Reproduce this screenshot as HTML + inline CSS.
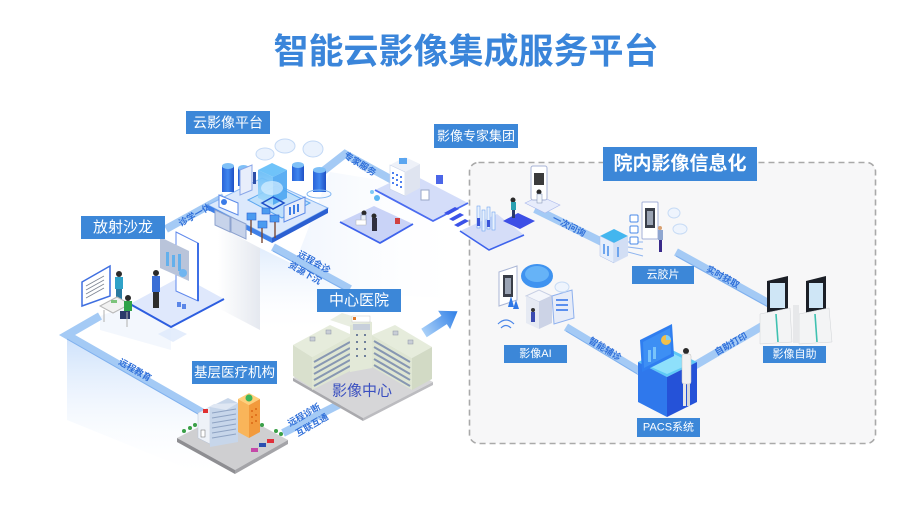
<!DOCTYPE html>
<html><head><meta charset="utf-8">
<style>
html,body{margin:0;padding:0;background:#fff;width:910px;height:522px;overflow:hidden;}
svg{display:block;}
text{font-family:"Liberation Sans","Noto Sans CJK SC",sans-serif;}
.lbl{fill:#fff;text-anchor:middle;dominant-baseline:central;}
.bt{fill:#2f6fd9;font-size:9px;font-weight:bold;text-anchor:middle;dominant-baseline:central;}
</style></head><body>
<svg width="910" height="522" viewBox="0 0 910 522" xmlns="http://www.w3.org/2000/svg">
<defs>
 <linearGradient id="fadeDown" x1="0" y1="0" x2="0" y2="1">
  <stop offset="0" stop-color="#cde1fb"/><stop offset="1" stop-color="#ffffff" stop-opacity="0"/>
 </linearGradient>
 <linearGradient id="fadeRight" x1="0" y1="0" x2="1" y2="0">
  <stop offset="0" stop-color="#d9e7fb"/><stop offset="1" stop-color="#ffffff" stop-opacity="0"/>
 </linearGradient>
 <linearGradient id="wallG" x1="0" y1="0" x2="1" y2="0">
  <stop offset="0" stop-color="#ffffff"/><stop offset="1" stop-color="#e2e6ee"/>
 </linearGradient>
 <linearGradient id="arrowG" x1="0" y1="0" x2="1" y2="0">
  <stop offset="0" stop-color="#a9d0f8"/><stop offset="1" stop-color="#2f7fe6"/>
 </linearGradient>
 <linearGradient id="cyl" x1="0" y1="0" x2="1" y2="0">
  <stop offset="0" stop-color="#2a63d8"/><stop offset="0.5" stop-color="#3f86ef"/><stop offset="1" stop-color="#1f4fc4"/>
 </linearGradient>
 <linearGradient id="glow" x1="0" y1="0" x2="0" y2="1">
  <stop offset="0" stop-color="#5fb8f7"/><stop offset="1" stop-color="#a7dcfb"/>
 </linearGradient>
</defs>

<!-- Title -->
<text x="466" y="52" font-size="35" font-weight="bold" fill="#3a85da" text-anchor="middle" dominant-baseline="central">智能云影像集成服务平台</text>

<!-- background soft regions -->
<polygon points="67,336 205,416 215,480 67,420" fill="url(#fadeDown)"/>
<polygon points="218,226 260,248 260,330 218,308" fill="url(#wallG)" opacity="0.9"/>
<polygon points="260,248 350,292 350,335 260,335" fill="url(#fadeDown)" opacity="0.6"/>
<polygon points="330,172 392,182 470,200 470,300 350,292 300,250" fill="url(#fadeRight)" opacity="0.35"/>
<polygon points="100,316 130,305 171,328 171,350 100,330" fill="#eef3fc" opacity="0.7"/>

<!-- Dashed container -->
<rect x="469.5" y="162.5" width="406" height="281" rx="9" fill="#f7f7f8" stroke="#a9a9a9" stroke-width="1.6" stroke-dasharray="6 4"/>

<!-- Bands -->
<g stroke="#a4caf5" stroke-width="8" fill="none" stroke-linecap="butt">
 <polyline points="100,316 67,335 205,414"/>
 <line x1="166" y1="229" x2="224" y2="197"/>
 <polyline points="322,172 345,154 394,181"/>
 <line x1="273" y1="247" x2="350" y2="289"/>
 <line x1="283" y1="433" x2="340" y2="404"/>
 <line x1="535" y1="209" x2="604" y2="243"/>
 <line x1="676" y1="252" x2="770" y2="304"/>
 <line x1="566" y1="327" x2="639" y2="371"/>
 <line x1="694" y1="366" x2="764" y2="325"/>
</g>
<g stroke="#7fb0ee" stroke-width="1" fill="none">
 <polyline points="67,339 205,418"/>
 <line x1="273" y1="251" x2="350" y2="293"/>
 <line x1="676" y1="256" x2="770" y2="308"/>
 <line x1="566" y1="331" x2="639" y2="375"/>
</g>

<!-- Band labels -->
<text class="bt" transform="translate(135,370) rotate(30)">远程教育</text>
<text class="bt" transform="translate(195,215) rotate(-30)">诊学一体</text>
<text class="bt" transform="translate(360,164) rotate(32)">专家服务</text>
<text class="bt" transform="translate(314,262) rotate(30)">远程会诊</text>
<text class="bt" transform="translate(305,273) rotate(30)">资源下沉</text>
<text class="bt" transform="translate(304,415) rotate(-30)">远程诊断</text>
<text class="bt" transform="translate(312,425) rotate(-30)">互联互通</text>
<text class="bt" transform="translate(569,226) rotate(27)">一次问询</text>
<text class="bt" transform="translate(723,277) rotate(29)">实时获取</text>
<text class="bt" transform="translate(605,349) rotate(31)">智能辅诊</text>
<text class="bt" transform="translate(731,344) rotate(-30)">自助打印</text>

<!-- ===== Cloud platform ===== -->
<g>
 <polygon points="208,205 262,178 328,208 272,238" fill="#dce9fc" stroke="#8ab8f2"/>
 <polygon points="208,205 272,238 272,243 208,210" fill="#3f80e8"/>
 <polygon points="272,238 328,208 328,213 272,243" fill="#2b60d2"/>
 <polygon points="248,200 276,186 310,203 282,218" fill="#bfe0fb" stroke="#5aa6f0"/>
 <!-- clouds -->
 <ellipse cx="265" cy="154" rx="9" ry="6" fill="#eaf2fd" stroke="#c3d9f6"/>
 <ellipse cx="285" cy="146" rx="10" ry="7" fill="#eaf2fd" stroke="#c3d9f6"/>
 <ellipse cx="313" cy="149" rx="10" ry="8" fill="#eaf2fd" stroke="#c3d9f6"/>
 <!-- cylinders -->
 <rect x="222" y="166" width="12" height="26" fill="url(#cyl)"/><ellipse cx="228" cy="166" rx="6" ry="3" fill="#7fc0f7"/>
 <rect x="238" y="168" width="11" height="18" fill="url(#cyl)"/><ellipse cx="243.5" cy="168" rx="5.5" ry="3" fill="#7fc0f7"/>
 <rect x="292" y="165" width="12" height="16" fill="url(#cyl)"/><ellipse cx="298" cy="165" rx="6" ry="3" fill="#7fc0f7"/>
 <rect x="313" y="170" width="13" height="22" fill="url(#cyl)"/><ellipse cx="319.5" cy="170" rx="6.5" ry="3" fill="#7fc0f7"/>
 <ellipse cx="319" cy="194" rx="12" ry="4" fill="none" stroke="#7fb6f2"/>
 <!-- central glowing cube -->
 <polygon points="258,170 272,163 287,170 273,177" fill="#6fc3f9"/>
 <polygon points="258,170 273,177 273,205 258,198" fill="url(#glow)" opacity="0.9"/>
 <polygon points="273,177 287,170 287,198 273,205" fill="#4aa6f2" opacity="0.9"/>
 <ellipse cx="272" cy="188" rx="11" ry="7" fill="#d7efff" opacity="0.7"/>
 <polygon points="262,203 273,197 284,203 273,209" fill="none" stroke="#1d4fc9" stroke-width="1.5"/>
 <!-- screen & figure -->
 <polygon points="240,170 252,165 252,190 240,195" fill="#e8eefb" stroke="#8aa6e8"/>
 <rect x="253" y="172" width="3" height="12" fill="#2d4fa8"/>
 <!-- left panels -->
 <polygon points="219,195 238,203 238,215 219,207" fill="#ffffff" stroke="#5b8ae8"/>
 <circle cx="224" cy="202" r="3" fill="#3a7be8"/>
 <polygon points="215,210 230,217 230,232 215,225" fill="#c7d3ea" stroke="#8ea3cf"/>
 <polygon points="231,217 246,224 246,239 231,232" fill="#c7d3ea" stroke="#8ea3cf"/>
 <!-- right screen -->
 <polygon points="284,206 305,197 305,213 284,222" fill="#e9eef9" stroke="#5b8ae8"/>
 <rect x="289" y="207" width="2" height="8" fill="#3b7de6"/><rect x="293" y="205" width="2" height="9" fill="#3b7de6"/><rect x="297" y="204" width="2" height="8" fill="#3b7de6"/>
 <!-- small blocks + poles -->
 <g fill="#4b9bf0" stroke="#2c63d3" stroke-width="0.6">
  <rect x="247" y="213" width="9" height="7"/><rect x="258" y="221" width="9" height="7"/><rect x="270" y="215" width="9" height="7"/><rect x="262" y="208" width="8" height="6"/>
 </g>
 <g stroke="#7a4a36" stroke-width="1.4">
  <line x1="251" y1="220" x2="251" y2="235"/><line x1="262" y1="228" x2="262" y2="243"/><line x1="275" y1="222" x2="275" y2="238"/>
 </g>
</g>

<!-- ===== 放射沙龙 ===== -->
<g>
 <polygon points="158,334 172,327 187,334 173,342" fill="#dde8fb" opacity="0.8"/>
 <polygon points="130,304 182,276 224,299 171,327" fill="#dfe8fc"/>
 <polyline points="130,304 171,327 224,299" fill="none" stroke="#2d5ee0" stroke-width="2"/>
 <polygon points="176,232 198,243 198,301 176,291" fill="#ffffff" stroke="#5f88ec"/>
 <line x1="198" y1="243" x2="198" y2="301" stroke="#3d6fe6" stroke-width="2"/>
 <polygon points="160,237 189,251 189,281 160,268" fill="#b9c4da"/>
 <g fill="#63b0ec"><rect x="166" y="252" width="3" height="14"/><rect x="172" y="255" width="3" height="12"/><rect x="178" y="254" width="3" height="17"/></g>
 <circle cx="183" cy="273" r="4" fill="#6fb5f0"/>
 <circle cx="156" cy="273" r="3" fill="#2a2a2a"/>
 <rect x="152" y="276" width="8" height="16" fill="#3b6fd6"/>
 <rect x="153" y="292" width="6" height="16" fill="#2d2d2d"/>
 <g fill="#5b86e8"><rect x="177" y="302" width="4" height="5"/><rect x="182" y="304" width="4" height="5"/></g>
 <!-- whiteboard -->
 <polygon points="82,282 110,266 110,296 82,306" fill="#ffffff" stroke="#3f6fe0" stroke-width="1.5"/>
 <g stroke="#7d8593" stroke-width="0.8"><line x1="86" y1="286" x2="104" y2="276"/><line x1="86" y1="290" x2="104" y2="280"/><line x1="86" y1="294" x2="104" y2="284"/><line x1="86" y1="298" x2="104" y2="288"/></g>
 <circle cx="119" cy="274" r="3" fill="#2b2b2b"/>
 <rect x="115" y="277" width="8" height="12" fill="#2fa2c8"/>
 <rect x="116" y="289" width="6" height="12" fill="#2a7aa0"/>
 <polygon points="100,306 117,297 130,304 113,313" fill="#f2f2f2" stroke="#b8b8b8"/>
 <rect x="111" y="300" width="6" height="3" fill="#7cc47a"/>
 <circle cx="128" cy="298" r="3" fill="#2b2b2b"/>
 <rect x="124" y="301" width="8" height="10" fill="#2fa34a"/>
 <rect x="120" y="311" width="10" height="8" fill="#2a3a6a"/>
 <line x1="104" y1="310" x2="104" y2="322" stroke="#b0b0b0"/><line x1="127" y1="312" x2="127" y2="327" stroke="#b0b0b0"/>
</g>

<!-- ===== Expert group ===== -->
<g>
 <polygon points="375,190 410,173 468,203 433,221" fill="#d4ddf9"/>
 <polyline points="375,190 433,221 468,203" fill="none" stroke="#4b6cf0" stroke-width="1.8"/>
 <polygon points="390,165 405,157 420,164 405,172" fill="#eef1f8"/>
 <polygon points="390,165 405,172 405,196 390,189" fill="#ffffff" stroke="#c9d3ea" stroke-width="0.6"/>
 <polygon points="405,172 420,164 420,188 405,196" fill="#dfe4f0"/>
 <g fill="#4c7ff0">
  <rect x="392" y="172" width="2" height="2"/><rect x="396" y="174" width="2" height="2"/><rect x="400" y="176" width="2" height="2"/>
  <rect x="392" y="177" width="2" height="2"/><rect x="396" y="179" width="2" height="2"/><rect x="400" y="181" width="2" height="2"/>
  <rect x="392" y="182" width="2" height="2"/><rect x="396" y="184" width="2" height="2"/><rect x="400" y="186" width="2" height="2"/>
 </g>
 <rect x="399" y="158" width="8" height="6" fill="#5ba6f0"/>
 <rect x="421" y="190" width="8" height="10" fill="#ffffff" stroke="#9aa8c8"/>
 <rect x="436" y="175" width="7" height="9" fill="#4b66e8"/>
 <!-- meeting platform -->
 <polygon points="340,222 374,206 413,224 380,243" fill="#c9d3f7"/>
 <polyline points="340,222 380,243 413,224" fill="none" stroke="#3e63ec" stroke-width="1.8"/>
 <circle cx="364" cy="213" r="2.5" fill="#2a2a2a"/><rect x="361" y="215" width="5" height="9" fill="#e8eef8" stroke="#6b7ba0" stroke-width="0.5"/>
 <circle cx="374" cy="216" r="2.5" fill="#2a2a2a"/><rect x="372" y="218" width="5" height="13" fill="#2f2f3f"/>
 <rect x="356" y="220" width="10" height="5" fill="#ffffff" stroke="#b5b5b5" stroke-width="0.5"/>
 <rect x="395" y="218" width="5" height="6" fill="#d04040"/>
 <circle cx="377" cy="198" r="3" fill="#5cb7f3"/><circle cx="372" cy="192" r="2" fill="#7fc9f5"/>
 <!-- stairs -->
 <g fill="#3b52e8">
  <polygon points="444,213 455,207 459,209 448,215"/>
  <polygon points="449,219 460,213 464,215 453,221"/>
  <polygon points="454,225 465,219 469,221 458,227"/>
 </g>
 <!-- test tube platform -->
 <polygon points="460,231 497,214 524,235 489,250" fill="#d5ddf8"/>
 <polyline points="460,231 489,250 524,235" fill="none" stroke="#3e63ec" stroke-width="1.6"/>
 <g fill="#e8f1fd" stroke="#6fa3f0" stroke-width="0.6">
  <rect x="477" y="206" width="3" height="22"/><rect x="482" y="210" width="3" height="21"/><rect x="487" y="207" width="3" height="22"/><rect x="492" y="212" width="3" height="18"/>
 </g>
 <g fill="#3a56d8"><rect x="477" y="218" width="3" height="8"/><rect x="487" y="220" width="3" height="7"/></g>
 <polygon points="503,221 518,213 535,221 520,229" fill="#3d4fe6"/>
 <circle cx="513" cy="200" r="2.5" fill="#2a2a2a"/><rect x="511" y="202" width="5" height="8" fill="#2aa0b0"/><rect x="512" y="210" width="3" height="8" fill="#2a3a6a"/>
 <polygon points="525,203 540,196 560,205 545,213" fill="#e7ecfb" stroke="#aab8ec" stroke-width="0.6"/>
 <rect x="531" y="166" width="16" height="34" rx="2" fill="#ffffff" stroke="#a7b3d6"/>
 <rect x="534" y="173" width="10" height="12" fill="#3b3b3b"/>
 <circle cx="539" cy="192" r="2.5" fill="#2a2a2a"/><rect x="537" y="194" width="5" height="9" fill="#f0f4fb" stroke="#7b8bb0" stroke-width="0.5"/>
</g>

<!-- ===== 中心医院 building ===== -->
<g>
 <polygon points="293,378 363,418 433,382 363,345" fill="#d6d6d8"/>
 <polygon points="293,378 363,418 363,421 293,381" fill="#a9a9ad"/>
 <polygon points="363,418 433,382 433,385 363,421" fill="#bcbcc0"/>
 <!-- left wing -->
 <polygon points="293,345 330,325 352,335 312,357" fill="#e6ecdc"/>
 <polygon points="293,345 312,357 312,388 293,376" fill="#d9e0cd"/>
 <polygon points="312,357 352,335 352,370 312,390" fill="#dfe6d3"/>
 <g stroke="#8797b2" stroke-width="2">
  <line x1="314" y1="362" x2="350" y2="342"/><line x1="314" y1="368" x2="350" y2="348"/><line x1="314" y1="374" x2="350" y2="354"/><line x1="314" y1="380" x2="350" y2="360"/><line x1="314" y1="386" x2="350" y2="366"/>
 </g>
 <!-- right wing -->
 <polygon points="372,335 395,325 432,347 412,358" fill="#e6ecdc"/>
 <polygon points="372,335 412,358 412,390 372,367" fill="#dfe6d3"/>
 <polygon points="412,358 432,347 432,379 412,390" fill="#d2dac5"/>
 <g stroke="#8797b2" stroke-width="2">
  <line x1="374" y1="341" x2="410" y2="362"/><line x1="374" y1="347" x2="410" y2="368"/><line x1="374" y1="353" x2="410" y2="374"/><line x1="374" y1="359" x2="410" y2="380"/><line x1="374" y1="365" x2="410" y2="386"/>
 </g>
 <!-- center tower -->
 <polygon points="330,320 342,313 372,322 360,330" fill="#e9eee1"/>
 <polygon points="350,325 372,322 372,368 350,372" fill="#e3e9d8"/>
 <rect x="352" y="316" width="18" height="6" fill="#ffffff" stroke="#c9c9c9" stroke-width="0.5"/>
 <rect x="353" y="317" width="3" height="3" fill="#e07a2a"/>
 <rect x="353" y="324" width="17" height="6" fill="#c7cfdb"/>
 <g fill="#6f7f9a">
  <rect x="356" y="334" width="2" height="2"/><rect x="364" y="334" width="2" height="2"/>
  <rect x="356" y="341" width="2" height="2"/><rect x="364" y="341" width="2" height="2"/>
  <rect x="356" y="348" width="2" height="2"/><rect x="364" y="348" width="2" height="2"/>
  <rect x="356" y="355" width="2" height="2"/><rect x="364" y="355" width="2" height="2"/>
 </g>
 <g fill="#c9ced6" stroke="#8d95a5" stroke-width="0.5">
  <rect x="310" y="337" width="5" height="4"/><rect x="326" y="330" width="5" height="4"/><rect x="393" y="331" width="5" height="4"/><rect x="408" y="340" width="5" height="4"/>
 </g>
 <text x="362" y="391" font-size="15" fill="#3a4fc0" text-anchor="middle" dominant-baseline="central">影像中心</text>
</g>

<!-- ===== 基层 buildings ===== -->
<g>
 <polygon points="177,438 232,410 288,440 235,470" fill="#cfcfd1"/>
 <polygon points="177,438 235,470 235,474 177,442" fill="#8e8e92"/>
 <polygon points="235,470 288,440 288,444 235,474" fill="#a4a4a8"/>
 <polygon points="198,413 210,407 210,444 198,438" fill="#eef2f8" stroke="#b6c2d6" stroke-width="0.5"/>
 <rect x="201" y="430" width="4" height="7" fill="#ffffff" stroke="#666" stroke-width="0.5"/>
 <polygon points="210,407 228,398 238,403 238,442 210,447" fill="#c7d6ea"/>
 <polygon points="198,413 214,404 238,403 226,410 210,407" fill="#dfe7f3"/>
 <g stroke="#8fa4c4" stroke-width="1"><line x1="212" y1="413" x2="236" y2="409"/><line x1="212" y1="418" x2="236" y2="414"/><line x1="212" y1="423" x2="236" y2="419"/><line x1="212" y1="428" x2="236" y2="424"/><line x1="212" y1="433" x2="236" y2="429"/><line x1="212" y1="438" x2="236" y2="434"/></g>
 <rect x="203" y="409" width="5" height="4" fill="#e03030"/>
 <polygon points="238,399 249,393 260,399 249,405" fill="#ffcf7a"/>
 <polygon points="238,399 249,405 249,438 238,432" fill="#f9b55a"/>
 <polygon points="249,405 260,399 260,432 249,438" fill="#f29a3c"/>
 <circle cx="249" cy="398" r="3.5" fill="#3cb55a"/>
 <g fill="#e0731e"><rect x="251" y="410" width="2" height="2"/><rect x="255" y="408" width="2" height="2"/><rect x="251" y="416" width="2" height="2"/><rect x="255" y="414" width="2" height="2"/><rect x="251" y="422" width="2" height="2"/><rect x="255" y="420" width="2" height="2"/></g>
 <rect x="251" y="448" width="7" height="4" fill="#c548a8"/><rect x="259" y="443" width="7" height="4" fill="#2a4fb0"/><rect x="267" y="439" width="7" height="4" fill="#e0303a"/>
 <g fill="#3aa048"><circle cx="184" cy="431" r="2"/><circle cx="190" cy="428" r="2"/><circle cx="195" cy="425" r="2"/><circle cx="262" cy="425" r="2"/><circle cx="276" cy="431" r="2"/><circle cx="281" cy="434" r="2"/></g>
</g>

<!-- Blue arrow -->
<g transform="translate(424,333) rotate(-33)">
 <polygon points="0,-5 24,-5 24,-11 40,0 24,11 24,5 0,5" fill="url(#arrowG)"/>
</g>

<!-- ===== Right side: 云胶片 ===== -->
<g>
 <polygon points="600,236 614,229 628,236 614,243" fill="#43b6ef"/>
 <polygon points="600,236 614,243 614,263 600,256" fill="#e6eefb" stroke="#a9bde6" stroke-width="0.5"/>
 <polygon points="614,243 628,236 628,256 614,263" fill="#d2def4"/>
 <g fill="#6ea5ee"><rect x="603" y="244" width="2" height="10"/><rect x="607" y="246" width="2" height="10"/><rect x="617" y="247" width="2" height="10"/></g>
 <g stroke="#8fb5ef" stroke-width="1"><line x1="628" y1="242" x2="643" y2="242"/><line x1="628" y1="247" x2="643" y2="249"/><line x1="628" y1="252" x2="643" y2="256"/></g>
 <rect x="630" y="215" width="8" height="7" rx="1" fill="#ffffff" stroke="#4a8ae8"/>
 <rect x="630" y="226" width="8" height="7" rx="1" fill="#ffffff" stroke="#4a8ae8"/>
 <rect x="630" y="237" width="8" height="7" rx="1" fill="#ffffff" stroke="#4a8ae8"/>
 <rect x="642" y="202" width="16" height="37" rx="1" fill="#ffffff" stroke="#a4b2d8"/>
 <rect x="645" y="208" width="10" height="20" fill="#3a3f4a"/>
 <rect x="647" y="211" width="6" height="14" fill="#9aa3b3"/>
 <ellipse cx="674" cy="213" rx="6" ry="5" fill="#eef4fd" stroke="#c7dbf5"/>
 <ellipse cx="680" cy="229" rx="7" ry="5" fill="#eef4fd" stroke="#c7dbf5"/>
 <circle cx="660" cy="228" r="2" fill="#d8a070"/><rect x="658" y="230" width="5" height="10" fill="#8fa6d0"/><rect x="659" y="240" width="3" height="12" fill="#3a2a8a"/>
</g>

<!-- 影像AI -->
<g>
 <polygon points="499,272 517,266 517,300 499,306" fill="#ffffff" stroke="#aab6d6"/>
 <rect x="503" y="275" width="10" height="22" fill="#3a3e48"/>
 <rect x="505" y="278" width="6" height="16" fill="#9ba4b4"/>
 <ellipse cx="537" cy="276" rx="16" ry="12" fill="#3f93f0"/>
 <ellipse cx="537" cy="274" rx="12" ry="8" fill="#66b3f7"/>
 <polygon points="526,296 539,290 552,296 539,302" fill="#f4f6fb" stroke="#c7cfe4"/>
 <polygon points="526,296 539,302 539,329 526,323" fill="#e6eaf3"/>
 <polygon points="539,302 552,296 552,323 539,329" fill="#ccd3e6"/>
 <polygon points="552,296 572,290 574,318 554,324" fill="#e7ecf8" stroke="#8db0ee"/>
 <g fill="#5b8fee"><rect x="556" y="299" width="12" height="2"/><rect x="556" y="304" width="12" height="2"/><rect x="556" y="309" width="12" height="2"/></g>
 <g fill="#2f78e6"><polygon points="508,307 511,296 514,307"/><polygon points="513,309 516,300 519,309"/></g>
 <g fill="none" stroke="#4a86e8" stroke-width="1.2"><path d="M498 324 q8 -8 16 0"/><path d="M501 328 q5 -5 10 0"/></g>
 <ellipse cx="562" cy="287" rx="7" ry="5" fill="#eef4fd" stroke="#c7dbf5"/>
 <circle cx="533" cy="310" r="2" fill="#333"/><rect x="531" y="312" width="4" height="10" fill="#3a4ab0"/>
</g>

<!-- PACS -->
<g>
 <polygon points="638,362 668,348 697,362 667,377" fill="#5ec9f6"/>
 <polygon points="642,363 668,351 692,363 667,374" fill="#8ee0fb"/>
 <polygon points="638,362 667,377 667,417 638,402" fill="#2f78ec"/>
 <polygon points="667,377 697,362 697,402 667,417" fill="#2552d8"/>
 <polygon points="640,340 672,324 674,356 642,372" fill="#2f7ef0"/>
 <polygon points="643,342 670,328 671,354 644,368" fill="#3d8ff4"/>
 <g fill="#79c3fa"><rect x="648" y="350" width="3" height="12"/><rect x="653" y="347" width="3" height="12"/></g>
 <circle cx="666" cy="340" r="5" fill="#f2c04a"/><path d="M666 340 L666 335 A5 5 0 0 1 671 340 Z" fill="#7fd0fa"/>
 <circle cx="686" cy="351" r="3" fill="#2a2a2a"/>
 <rect x="682" y="354" width="9" height="30" rx="2" fill="#f2f2f2" stroke="#c0c0c0" stroke-width="0.5"/>
 <rect x="683" y="384" width="3" height="22" fill="#e6e6e6"/><rect x="687" y="384" width="3" height="22" fill="#d8d8d8"/>
</g>

<!-- 影像自助 kiosks -->
<g>
 <polygon points="767,281 788,276 788,310 767,315" fill="#1b1f27"/>
 <rect x="770" y="283" width="15" height="25" fill="#cfe6f6"/>
 <polygon points="760,314 790,308 792,342 760,344" fill="#f3f4f5" stroke="#d0d3d6" stroke-width="0.5"/>
 <line x1="776" y1="314" x2="778" y2="342" stroke="#3ec1b0" stroke-width="1.6"/>
 <polygon points="806,281 826,276 826,310 806,315" fill="#1b1f27"/>
 <rect x="809" y="283" width="14" height="25" fill="#cfe6f6"/>
 <polygon points="799,314 829,308 832,342 799,344" fill="#f3f4f5" stroke="#d0d3d6" stroke-width="0.5"/>
 <line x1="815" y1="314" x2="817" y2="342" stroke="#3ec1b0" stroke-width="1.6"/>
 <rect x="793" y="305" width="6" height="38" fill="#e7e8ea"/>
</g>

<!-- Labels -->
<g>
 <rect x="186" y="111" width="84" height="23" fill="#3c87d8"/>
 <text class="lbl" x="228" y="122.5" font-size="14">云影像平台</text>
 <rect x="81" y="216" width="84" height="23" fill="#3c87d8"/>
 <text class="lbl" x="123" y="227.5" font-size="15">放射沙龙</text>
 <rect x="317" y="289" width="84" height="23" fill="#3c87d8"/>
 <text class="lbl" x="359" y="300.5" font-size="15">中心医院</text>
 <rect x="192" y="361" width="85" height="23" fill="#3c87d8"/>
 <text class="lbl" x="234.5" y="372.5" font-size="13.5">基层医疗机构</text>
 <rect x="434" y="124" width="84" height="24" fill="#3c87d8"/>
 <text class="lbl" x="476" y="136" font-size="13">影像专家集团</text>
 <rect x="603" y="147" width="154" height="34" fill="#3c87d8"/>
 <text class="lbl" x="680" y="164" font-size="19" font-weight="bold">院内影像信息化</text>
 <rect x="632" y="266" width="62" height="18" fill="#3c87d8"/>
 <text class="lbl" x="663" y="275" font-size="11">云胶片</text>
 <rect x="763" y="346" width="63" height="17" fill="#3c87d8"/>
 <text class="lbl" x="794.5" y="354.5" font-size="11">影像自助</text>
 <rect x="504" y="345" width="63" height="18" fill="#3c87d8"/>
 <text class="lbl" x="535.5" y="354" font-size="11">影像AI</text>
 <rect x="637" y="418" width="63" height="19" fill="#3c87d8"/>
 <text class="lbl" x="668.5" y="427.5" font-size="11">PACS系统</text>
</g>
</svg>
</body></html>
